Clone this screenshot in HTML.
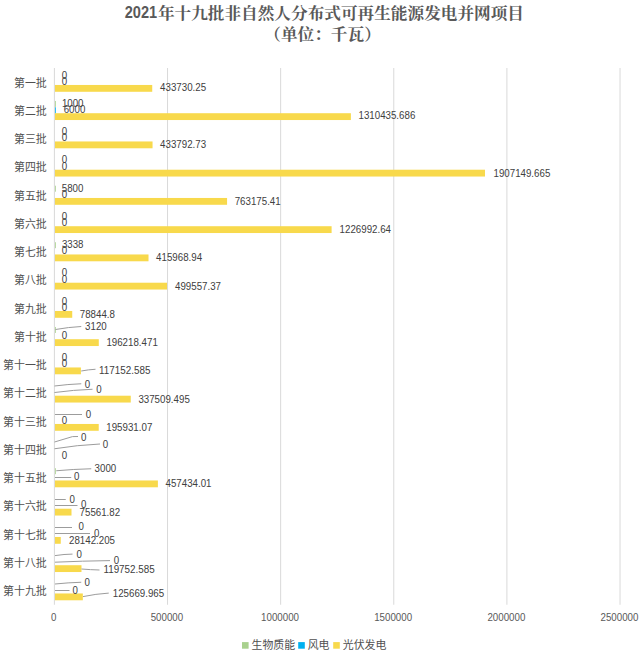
<!DOCTYPE html>
<html lang="zh-CN"><head><meta charset="utf-8"><title>2021年十九批非自然人分布式可再生能源发电并网项目</title>
<style>html,body{margin:0;padding:0;background:#fff}body{width:640px;height:657px;overflow:hidden;font-family:"Liberation Sans",sans-serif}svg{display:block}</style>
</head><body>
<svg width="640" height="657" viewBox="0 0 640 657">
<rect width="640" height="657" fill="#fff"/>
<rect x="53.90" y="68.00" width="1" height="536.75" fill="#D9D9D9"/>
<rect x="167.03" y="68.00" width="1" height="536.75" fill="#D9D9D9"/>
<rect x="280.15" y="68.00" width="1" height="536.75" fill="#D9D9D9"/>
<rect x="393.27" y="68.00" width="1" height="536.75" fill="#D9D9D9"/>
<rect x="506.40" y="68.00" width="1" height="536.75" fill="#D9D9D9"/>
<rect x="619.52" y="68.00" width="1" height="536.75" fill="#D9D9D9"/>
<rect x="55.00" y="84.96" width="97.23" height="6.83" fill="#F8D94C"/>
<rect x="55.00" y="100.96" width="0.80" height="5.98" fill="#A9D18E"/>
<rect x="55.00" y="107.24" width="0.80" height="6.28" fill="#00B0F0"/>
<rect x="55.00" y="113.21" width="295.89" height="6.83" fill="#F8D94C"/>
<rect x="55.00" y="141.46" width="97.55" height="6.83" fill="#F8D94C"/>
<rect x="55.00" y="169.71" width="429.99" height="6.83" fill="#F8D94C"/>
<rect x="55.00" y="185.71" width="0.80" height="5.98" fill="#A9D18E"/>
<rect x="55.00" y="197.96" width="172.07" height="6.83" fill="#F8D94C"/>
<rect x="55.00" y="226.21" width="276.61" height="6.83" fill="#F8D94C"/>
<rect x="55.00" y="242.21" width="0.80" height="5.98" fill="#A9D18E"/>
<rect x="55.00" y="254.46" width="93.51" height="6.83" fill="#F8D94C"/>
<rect x="55.00" y="282.71" width="112.02" height="6.83" fill="#F8D94C"/>
<rect x="55.00" y="310.96" width="17.24" height="6.83" fill="#F8D94C"/>
<rect x="55.00" y="326.96" width="0.80" height="5.98" fill="#A9D18E"/>
<rect x="55.00" y="339.21" width="43.79" height="6.83" fill="#F8D94C"/>
<rect x="55.00" y="367.46" width="25.91" height="6.83" fill="#F8D94C"/>
<rect x="55.00" y="395.71" width="75.76" height="6.83" fill="#F8D94C"/>
<rect x="55.00" y="423.96" width="43.73" height="6.83" fill="#F8D94C"/>
<rect x="55.00" y="468.21" width="0.80" height="5.98" fill="#A9D18E"/>
<rect x="55.00" y="480.46" width="102.89" height="6.83" fill="#F8D94C"/>
<rect x="55.00" y="508.71" width="16.50" height="6.83" fill="#F8D94C"/>
<rect x="55.00" y="536.96" width="5.77" height="6.83" fill="#F8D94C"/>
<rect x="55.00" y="565.21" width="26.49" height="6.83" fill="#F8D94C"/>
<rect x="55.00" y="593.46" width="27.83" height="6.83" fill="#F8D94C"/>
<path d="M55.50 329.50Q68.38 327.16 81.25 326.50" fill="none" stroke="#9C9C9C" stroke-width="1"/>
<path d="M81.20 371.00Q88.35 369.63 95.50 369.25" fill="none" stroke="#9C9C9C" stroke-width="1"/>
<path d="M54.50 386.00Q67.88 384.25 81.25 383.75" fill="none" stroke="#9C9C9C" stroke-width="1"/>
<path d="M54.50 392.50Q73.50 389.96 92.50 389.25" fill="none" stroke="#9C9C9C" stroke-width="1"/>
<path d="M55.00 414.50L82.00 414.50" fill="none" stroke="#9C9C9C" stroke-width="1"/>
<path d="M54.50 442.00L72.50 436.60L78.00 436.50" fill="none" stroke="#9C9C9C" stroke-width="1"/>
<path d="M54.50 448.75Q77.25 445.05 100.00 444.00" fill="none" stroke="#9C9C9C" stroke-width="1"/>
<path d="M56.25 470.75Q73.75 469.19 91.25 468.75" fill="none" stroke="#9C9C9C" stroke-width="1"/>
<path d="M55.00 477.50L71.25 477.50" fill="none" stroke="#9C9C9C" stroke-width="1"/>
<path d="M55.00 499.50L65.75 499.50" fill="none" stroke="#9C9C9C" stroke-width="1"/>
<path d="M55.00 505.50L77.50 505.50" fill="none" stroke="#9C9C9C" stroke-width="1"/>
<path d="M55.00 527.50L72.00 527.50" fill="none" stroke="#9C9C9C" stroke-width="1"/>
<path d="M55.00 533.50L90.00 533.50" fill="none" stroke="#9C9C9C" stroke-width="1"/>
<path d="M55.00 555.60L64.00 554.50L72.50 554.10" fill="none" stroke="#9C9C9C" stroke-width="1"/>
<path d="M55.00 562.20Q82.50 560.95 110.00 560.60" fill="none" stroke="#9C9C9C" stroke-width="1"/>
<path d="M81.50 569.00Q90.50 569.78 99.50 570.00" fill="none" stroke="#9C9C9C" stroke-width="1"/>
<path d="M55.00 584.00Q68.12 582.63 81.25 582.25" fill="none" stroke="#9C9C9C" stroke-width="1"/>
<path d="M55.00 590.50L69.50 590.50" fill="none" stroke="#9C9C9C" stroke-width="1"/>
<path d="M83.00 596.60Q95.88 593.87 108.75 593.10" fill="none" stroke="#9C9C9C" stroke-width="1"/>
<rect x="242.00" y="642.10" width="6.6" height="6.6" fill="#A9D18E"/>
<rect x="298.20" y="642.10" width="6.6" height="6.6" fill="#00B0F0"/>
<rect x="333.20" y="642.10" width="6.6" height="6.6" fill="#F8D94C"/>
<g fill="#404040" stroke="none" font-family="'Liberation Sans', sans-serif">
<text x="61.7" y="78.7" font-size="10.7" textLength="5.4" lengthAdjust="spacingAndGlyphs">0</text>
<text x="61.7" y="84.9" font-size="10.7" textLength="5.4" lengthAdjust="spacingAndGlyphs">0</text>
<text x="160.1" y="91.1" font-size="10.7" textLength="46.0" lengthAdjust="spacingAndGlyphs">433730.25</text>
<text x="61.9" y="106.9" font-size="10.7" textLength="21.6" lengthAdjust="spacingAndGlyphs">1000</text>
<text x="63.7" y="112.7" font-size="10.7" textLength="21.6" lengthAdjust="spacingAndGlyphs">6000</text>
<text x="358.5" y="119.2" font-size="10.7" textLength="56.8" lengthAdjust="spacingAndGlyphs">1310435.686</text>
<text x="61.7" y="135.2" font-size="10.7" textLength="5.4" lengthAdjust="spacingAndGlyphs">0</text>
<text x="61.7" y="141.4" font-size="10.7" textLength="5.4" lengthAdjust="spacingAndGlyphs">0</text>
<text x="160.1" y="147.8" font-size="10.7" textLength="46.0" lengthAdjust="spacingAndGlyphs">433792.73</text>
<text x="61.7" y="163.4" font-size="10.7" textLength="5.4" lengthAdjust="spacingAndGlyphs">0</text>
<text x="61.7" y="169.7" font-size="10.7" textLength="5.4" lengthAdjust="spacingAndGlyphs">0</text>
<text x="493.5" y="176.7" font-size="10.7" textLength="56.8" lengthAdjust="spacingAndGlyphs">1907149.665</text>
<text x="61.8" y="191.7" font-size="10.7" textLength="21.6" lengthAdjust="spacingAndGlyphs">5800</text>
<text x="61.7" y="197.9" font-size="10.7" textLength="5.4" lengthAdjust="spacingAndGlyphs">0</text>
<text x="234.7" y="204.9" font-size="10.7" textLength="46.0" lengthAdjust="spacingAndGlyphs">763175.41</text>
<text x="61.7" y="219.9" font-size="10.7" textLength="5.4" lengthAdjust="spacingAndGlyphs">0</text>
<text x="61.7" y="226.2" font-size="10.7" textLength="5.4" lengthAdjust="spacingAndGlyphs">0</text>
<text x="339.6" y="233.2" font-size="10.7" textLength="51.4" lengthAdjust="spacingAndGlyphs">1226992.64</text>
<text x="61.9" y="248.2" font-size="10.7" textLength="21.6" lengthAdjust="spacingAndGlyphs">3338</text>
<text x="61.7" y="254.4" font-size="10.7" textLength="5.4" lengthAdjust="spacingAndGlyphs">0</text>
<text x="156.1" y="261.4" font-size="10.7" textLength="46.0" lengthAdjust="spacingAndGlyphs">415968.94</text>
<text x="61.7" y="276.4" font-size="10.7" textLength="5.4" lengthAdjust="spacingAndGlyphs">0</text>
<text x="61.7" y="282.7" font-size="10.7" textLength="5.4" lengthAdjust="spacingAndGlyphs">0</text>
<text x="175.0" y="289.7" font-size="10.7" textLength="46.0" lengthAdjust="spacingAndGlyphs">499557.37</text>
<text x="61.7" y="304.7" font-size="10.7" textLength="5.4" lengthAdjust="spacingAndGlyphs">0</text>
<text x="61.7" y="310.9" font-size="10.7" textLength="5.4" lengthAdjust="spacingAndGlyphs">0</text>
<text x="79.8" y="317.9" font-size="10.7" textLength="35.1" lengthAdjust="spacingAndGlyphs">78844.8</text>
<text x="85.1" y="330.4" font-size="10.7" textLength="21.6" lengthAdjust="spacingAndGlyphs">3120</text>
<text x="61.7" y="339.2" font-size="10.7" textLength="5.4" lengthAdjust="spacingAndGlyphs">0</text>
<text x="106.4" y="346.2" font-size="10.7" textLength="51.4" lengthAdjust="spacingAndGlyphs">196218.471</text>
<text x="61.7" y="361.2" font-size="10.7" textLength="5.4" lengthAdjust="spacingAndGlyphs">0</text>
<text x="61.7" y="367.4" font-size="10.7" textLength="5.4" lengthAdjust="spacingAndGlyphs">0</text>
<text x="99.1" y="373.7" font-size="10.7" textLength="51.4" lengthAdjust="spacingAndGlyphs">117152.585</text>
<text x="84.8" y="387.7" font-size="10.7" textLength="5.4" lengthAdjust="spacingAndGlyphs">0</text>
<text x="96.3" y="393.2" font-size="10.7" textLength="5.4" lengthAdjust="spacingAndGlyphs">0</text>
<text x="138.4" y="402.7" font-size="10.7" textLength="51.4" lengthAdjust="spacingAndGlyphs">337509.495</text>
<text x="85.8" y="418.4" font-size="10.7" textLength="5.4" lengthAdjust="spacingAndGlyphs">0</text>
<text x="61.7" y="423.9" font-size="10.7" textLength="5.4" lengthAdjust="spacingAndGlyphs">0</text>
<text x="106.3" y="430.9" font-size="10.7" textLength="46.0" lengthAdjust="spacingAndGlyphs">195931.07</text>
<text x="81.0" y="440.9" font-size="10.7" textLength="5.4" lengthAdjust="spacingAndGlyphs">0</text>
<text x="102.8" y="447.9" font-size="10.7" textLength="5.4" lengthAdjust="spacingAndGlyphs">0</text>
<text x="61.7" y="459.2" font-size="10.7" textLength="5.4" lengthAdjust="spacingAndGlyphs">0</text>
<text x="94.6" y="472.2" font-size="10.7" textLength="21.6" lengthAdjust="spacingAndGlyphs">3000</text>
<text x="74.0" y="479.7" font-size="10.7" textLength="5.4" lengthAdjust="spacingAndGlyphs">0</text>
<text x="165.5" y="487.4" font-size="10.7" textLength="46.0" lengthAdjust="spacingAndGlyphs">457434.01</text>
<text x="69.5" y="503.2" font-size="10.7" textLength="5.4" lengthAdjust="spacingAndGlyphs">0</text>
<text x="81.0" y="508.2" font-size="10.7" textLength="5.4" lengthAdjust="spacingAndGlyphs">0</text>
<text x="79.6" y="516.0" font-size="10.7" textLength="40.5" lengthAdjust="spacingAndGlyphs">75561.82</text>
<text x="78.5" y="529.9" font-size="10.7" textLength="5.4" lengthAdjust="spacingAndGlyphs">0</text>
<text x="94.0" y="536.7" font-size="10.7" textLength="5.4" lengthAdjust="spacingAndGlyphs">0</text>
<text x="69.0" y="543.9" font-size="10.7" textLength="46.0" lengthAdjust="spacingAndGlyphs">28142.205</text>
<text x="76.5" y="557.9" font-size="10.7" textLength="5.4" lengthAdjust="spacingAndGlyphs">0</text>
<text x="113.8" y="564.0" font-size="10.7" textLength="5.4" lengthAdjust="spacingAndGlyphs">0</text>
<text x="103.4" y="572.9" font-size="10.7" textLength="51.4" lengthAdjust="spacingAndGlyphs">119752.585</text>
<text x="84.5" y="586.2" font-size="10.7" textLength="5.4" lengthAdjust="spacingAndGlyphs">0</text>
<text x="72.6" y="593.7" font-size="10.7" textLength="5.4" lengthAdjust="spacingAndGlyphs">0</text>
<text x="112.8" y="596.6" font-size="10.7" textLength="51.4" lengthAdjust="spacingAndGlyphs">125669.965</text>
</g>
<g fill="#505050" stroke="none" font-family="'Liberation Sans', 'Noto Sans CJK SC', sans-serif">
<text x="14.0" y="86.5" font-size="10.9" textLength="32.7" lengthAdjust="spacingAndGlyphs">第一批</text>
<text x="14.0" y="114.8" font-size="10.9" textLength="32.7" lengthAdjust="spacingAndGlyphs">第二批</text>
<text x="14.0" y="143.0" font-size="10.9" textLength="32.7" lengthAdjust="spacingAndGlyphs">第三批</text>
<text x="14.0" y="171.3" font-size="10.9" textLength="32.7" lengthAdjust="spacingAndGlyphs">第四批</text>
<text x="14.0" y="199.5" font-size="10.9" textLength="32.7" lengthAdjust="spacingAndGlyphs">第五批</text>
<text x="14.0" y="227.8" font-size="10.9" textLength="32.7" lengthAdjust="spacingAndGlyphs">第六批</text>
<text x="14.0" y="256.0" font-size="10.9" textLength="32.7" lengthAdjust="spacingAndGlyphs">第七批</text>
<text x="14.0" y="284.3" font-size="10.9" textLength="32.7" lengthAdjust="spacingAndGlyphs">第八批</text>
<text x="14.0" y="312.5" font-size="10.9" textLength="32.7" lengthAdjust="spacingAndGlyphs">第九批</text>
<text x="14.0" y="340.8" font-size="10.9" textLength="32.7" lengthAdjust="spacingAndGlyphs">第十批</text>
<text x="3.1" y="369.0" font-size="10.9" textLength="43.6" lengthAdjust="spacingAndGlyphs">第十一批</text>
<text x="3.1" y="397.3" font-size="10.9" textLength="43.6" lengthAdjust="spacingAndGlyphs">第十二批</text>
<text x="3.1" y="425.5" font-size="10.9" textLength="43.6" lengthAdjust="spacingAndGlyphs">第十三批</text>
<text x="3.1" y="453.8" font-size="10.9" textLength="43.6" lengthAdjust="spacingAndGlyphs">第十四批</text>
<text x="3.1" y="482.0" font-size="10.9" textLength="43.6" lengthAdjust="spacingAndGlyphs">第十五批</text>
<text x="3.1" y="510.3" font-size="10.9" textLength="43.6" lengthAdjust="spacingAndGlyphs">第十六批</text>
<text x="3.1" y="538.5" font-size="10.9" textLength="43.6" lengthAdjust="spacingAndGlyphs">第十七批</text>
<text x="3.1" y="566.8" font-size="10.9" textLength="43.6" lengthAdjust="spacingAndGlyphs">第十八批</text>
<text x="3.1" y="595.0" font-size="10.9" textLength="43.6" lengthAdjust="spacingAndGlyphs">第十九批</text>
<text x="251.5" y="649.4" font-size="10.9" textLength="43.6" lengthAdjust="spacingAndGlyphs">生物质能</text>
<text x="307.7" y="649.4" font-size="10.9" textLength="21.8" lengthAdjust="spacingAndGlyphs">风电</text>
<text x="342.8" y="649.4" font-size="10.9" textLength="43.6" lengthAdjust="spacingAndGlyphs">光伏发电</text>
</g>
<g fill="#595959" stroke="none" font-family="'Liberation Sans', sans-serif">
<text x="51.1" y="620.7" font-size="10.7" textLength="5.4" lengthAdjust="spacingAndGlyphs">0</text>
<text x="150.7" y="620.7" font-size="10.7" textLength="32.4" lengthAdjust="spacingAndGlyphs">500000</text>
<text x="261.1" y="620.7" font-size="10.7" textLength="37.9" lengthAdjust="spacingAndGlyphs">1000000</text>
<text x="374.2" y="620.7" font-size="10.7" textLength="37.9" lengthAdjust="spacingAndGlyphs">1500000</text>
<text x="487.4" y="620.7" font-size="10.7" textLength="37.9" lengthAdjust="spacingAndGlyphs">2000000</text>
<text x="600.5" y="620.7" font-size="10.7" textLength="37.9" lengthAdjust="spacingAndGlyphs">2500000</text>
</g>
<g fill="#595959" stroke="none" font-weight="bold">
<text x="124.7" y="18.1" font-size="16.0" textLength="32.4" lengthAdjust="spacingAndGlyphs" font-family="'Liberation Sans', 'Noto Sans CJK SC', sans-serif">2021</text>
<text x="157.9" y="18.5" font-size="16.3" textLength="366.1" lengthAdjust="spacingAndGlyphs" font-family="'Liberation Serif', 'Noto Serif CJK SC', serif">年十九批非自然人分布式可再生能源发电并网项目</text>
<text x="264.3" y="39.8" font-size="16.3" textLength="116.5" lengthAdjust="spacingAndGlyphs" font-family="'Liberation Serif', 'Noto Serif CJK SC', serif">（单位：千瓦）</text>
</g>
</svg>
</body></html>
